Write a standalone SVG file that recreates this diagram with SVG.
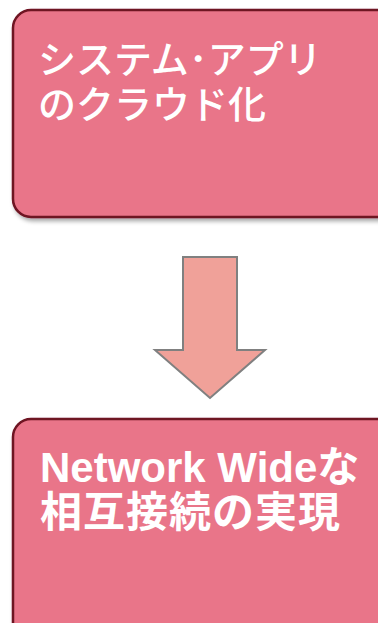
<svg xmlns="http://www.w3.org/2000/svg" width="378" height="623" viewBox="0 0 378 623">
  <defs>
    <filter id="shadow" x="-10%" y="-10%" width="130%" height="130%">
      <feDropShadow dx="2" dy="3" stdDeviation="2" flood-color="#000" flood-opacity="0.35"/>
    </filter>
  </defs>
  <style>
    .box { fill: #E97589; stroke: #6E1222; stroke-width: 2.5; filter: url(#shadow); }
    .label { fill: #fff; font-family: "Noto Sans CJK JP", "Liberation Sans", sans-serif; }
    .latin { font-family: "Liberation Sans", "Noto Sans CJK JP", sans-serif; }
    .arrow { fill: #F0A199; stroke: #808080; stroke-width: 2; }
  </style>
  <rect width="378" height="623" fill="#fff"/>

  <g id="node-cloud">
    <rect class="box" x="13" y="10" width="400" height="207" rx="18"/>
    <text class="label" font-size="38" font-weight="500">
      <tspan x="38" y="73">システム･アプリ</tspan>
      <tspan x="38" y="118">のクラウド化</tspan>
    </text>
  </g>

  <g id="connectors">
    <polygon class="arrow" points="183,257 237,257 237,350 265,350 210,398 155,350 183,350"/>
  </g>

  <g id="node-network">
    <rect class="box" x="13" y="419" width="400" height="240" rx="18"/>
    <text class="label" font-size="42" font-weight="bold">
      <tspan x="40" y="482"><tspan class="latin">Network Wide</tspan>な</tspan>
      <tspan x="40" y="527" letter-spacing="1">相互接続の実現</tspan>
    </text>
  </g>
</svg>
